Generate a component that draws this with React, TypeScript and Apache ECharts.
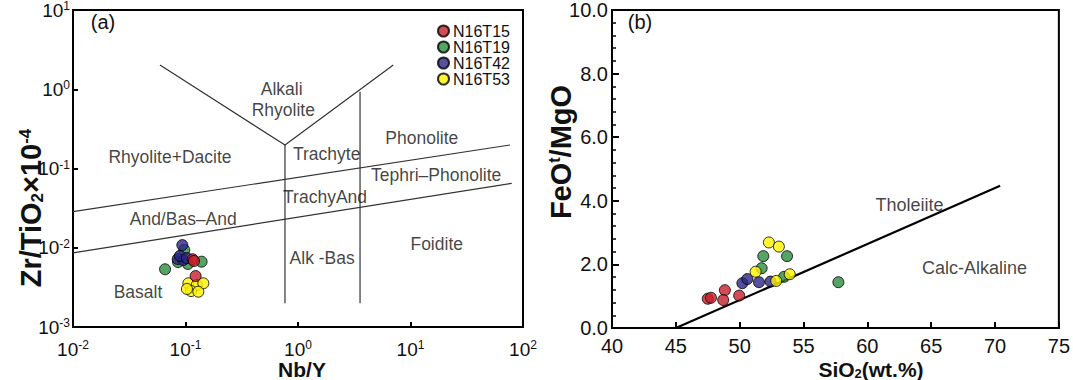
import React, { useEffect, useRef } from "react";
import * as echarts from "echarts";

const SAMPLES = ["N16T15", "N16T19", "N16T42", "N16T53"];
const COLORS = ["#c4202a", "#2b8c3e", "#2a2585", "#fff200"];

// (a) Nb/Y vs Zr/TiO2 x 10^-4
const NBY_ZR_N16T15 = [[0.116, 0.00715], [0.119, 0.0068], [0.123, 0.0044]];
const NBY_ZR_N16T19 = [[0.0975, 0.0094], [0.0658, 0.00535], [0.139, 0.00667], [0.105, 0.00624], [0.0858, 0.0066]];
const NBY_ZR_N16T42 = [[0.0937, 0.0108], [0.0853, 0.0072], [0.0955, 0.007], [0.0893, 0.0079], [0.103, 0.0074]];
const NBY_ZR_N16T53 = [[0.106, 0.00356], [0.126, 0.00339], [0.144, 0.00356], [0.112, 0.00284], [0.13, 0.00279], [0.103, 0.00302]];

// (b) SiO2 vs FeOt/MgO
const SIO2_FEO_N16T15 = [[47.5, 0.92], [47.75, 0.95], [48.84, 1.19], [48.71, 0.88], [49.96, 1.02]];
const SIO2_FEO_N16T19 = [[51.85, 2.26], [53.71, 2.26], [51.72, 1.88], [53.48, 1.61], [57.73, 1.44]];
const SIO2_FEO_N16T42 = [[50.21, 1.41], [50.6, 1.54], [51.51, 1.44], [52.42, 1.46]];
const SIO2_FEO_N16T53 = [[52.29, 2.69], [53.07, 2.56], [51.25, 1.77], [52.86, 1.48], [53.92, 1.69]];

// Winchester & Floyd field boundaries
const BOUNDARY_V = [[0.0593, 2.02], [0.766, 0.198], [7.03, 2.02]];
const BOUNDARY_VERT1 = [[0.766, 0.198], [0.766, 0.00199]];
const BOUNDARY_VERT2 = [[3.56, 0.931], [3.56, 0.00199]];
const BOUNDARY_UPPER = [[0.01, 0.0285], [76.6, 0.198]];
const BOUNDARY_LOWER = [[0.01, 0.0086], [79.4, 0.065]];

const FIELD_LABELS_A = [
  { name: "Alkali", value: [0.716, 1.0] },
  { name: "Rhyolite", value: [0.74, 0.547] },
  { name: "Phonolite", value: [12.6, 0.24] },
  { name: "Rhyolite+Dacite", value: [0.0728, 0.14] },
  { name: "Trachyte", value: [1.8, 0.151] },
  { name: "Tephri–Phonolite", value: [16.9, 0.0828] },
  { name: "TrachyAnd", value: [1.74, 0.044] },
  { name: "And/Bas–And", value: [0.0955, 0.0231] },
  { name: "Foidite", value: [17.1, 0.0111] },
  { name: "Alk -Bas", value: [1.64, 0.00736] },
  { name: "Basalt", value: [0.0378, 0.00277] },
];

// Tholeiite / calc-alkaline divide
const DIVIDE_B = [[45, 0], [70.4, 4.47]];
const FIELD_LABELS_B = [
  { name: "Tholeiite", value: [63.3, 3.87] },
  { name: "Calc-Alkaline", value: [68.4, 1.89] },
];

const FONT = '"Liberation Sans", Arial, sans-serif';

export default function App() {
  const ref = useRef<HTMLDivElement>(null);

  useEffect(() => {
    document.body.style.margin = "0";
    if (!ref.current) return;
    const chart = echarts.init(ref.current, undefined, { renderer: "svg" });

    const axisLine = { show: true, lineStyle: { color: "#000", width: 2 } };
    const powLabel = {
      margin: 3,
      color: "#111",
      fontSize: 19,
      fontFamily: FONT,
      formatter: (v: number) => `{b|10}{s|${Math.round(Math.log10(v))}}`,
      rich: {
        b: { fontSize: 19, fontFamily: FONT, color: "#111", lineHeight: 20 },
        s: { fontSize: 12, fontFamily: FONT, color: "#111", verticalAlign: "top", lineHeight: 20 },
      },
    };
    const pointStyle = (i: number) => ({
      color: COLORS[i],
      borderColor: "#000",
      borderWidth: 1,
    });

    const sampleSeriesA = [
      [1, NBY_ZR_N16T19],
      [2, NBY_ZR_N16T42],
      [3, NBY_ZR_N16T53],
      [0, NBY_ZR_N16T15],
    ].map(([i, data]: any) => ({
      type: "scatter",
      name: SAMPLES[i],
      xAxisIndex: 0,
      yAxisIndex: 0,
      data,
      symbolSize: 11,
      itemStyle: pointStyle(i),
      z: 5,
    }));

    const sampleSeriesB = [
      [0, SIO2_FEO_N16T15],
      [2, SIO2_FEO_N16T42],
      [1, SIO2_FEO_N16T19],
      [3, SIO2_FEO_N16T53],
    ].map(([i, data]: any) => ({
      type: "scatter",
      name: SAMPLES[i],
      xAxisIndex: 1,
      yAxisIndex: 1,
      data,
      symbolSize: 11,
      itemStyle: pointStyle(i),
      z: 5,
    }));

    const boundary = (data: number[][], width = 1.2, color = "#333", axis = 0) => ({
      type: "line",
      xAxisIndex: axis,
      yAxisIndex: axis,
      data,
      symbol: "none",
      silent: true,
      lineStyle: { color, width },
      z: 2,
    });

    const labelSeries = (data: any[], axis: number, size: number) => ({
      type: "scatter",
      xAxisIndex: axis,
      yAxisIndex: axis,
      data,
      symbolSize: 1,
      silent: true,
      itemStyle: { color: "rgba(0,0,0,0)" },
      label: {
        show: true,
        position: "inside",
        formatter: "{b}",
        color: "#111",
        fontSize: size,
        fontFamily: FONT,
      },
      z: 4,
    });

    chart.setOption({
      animation: false,
      backgroundColor: "#fff",
      legend: {
        data: SAMPLES,
        orient: "vertical",
        left: 432,
        top: 18,
        icon: "circle",
        itemWidth: 11,
        itemHeight: 11,
        itemGap: 0,
        textStyle: { fontSize: 16, fontFamily: FONT, color: "#111", padding: [0, 0, 0, -1] },
      },
      grid: [
        { left: 73, top: 10, width: 450, height: 317, show: true, borderColor: "#000", borderWidth: 2 },
        { left: 612, top: 10, width: 450, height: 318, show: true, borderColor: "#000", borderWidth: 2 },
      ],
      xAxis: [
        {
          type: "log",
          gridIndex: 0,
          logBase: 10,
          min: 0.01,
          max: 100,
          axisLine,
          axisTick: { inside: true, length: 5, lineStyle: { width: 2, color: "#000" } },
          splitLine: { show: false },
          axisLabel: { ...powLabel, margin: 12 },
        },
        {
          type: "value",
          gridIndex: 1,
          min: 40,
          max: 75,
          interval: 5,
          axisLine,
          axisTick: { inside: true, length: 6, lineStyle: { width: 2, color: "#000" } },
          splitLine: { show: false },
          axisLabel: { margin: 8, fontSize: 20, fontFamily: FONT, color: "#111" },
        },
      ],
      yAxis: [
        {
          type: "log",
          gridIndex: 0,
          logBase: 10,
          min: 0.001,
          max: 10,
          axisLine,
          axisTick: { inside: true, length: 5, lineStyle: { width: 2, color: "#000" } },
          splitLine: { show: false },
          axisLabel: powLabel,
        },
        {
          type: "value",
          gridIndex: 1,
          min: 0,
          max: 10,
          interval: 2,
          axisLine,
          axisTick: { inside: true, length: 7, lineStyle: { width: 2, color: "#000" } },
          minorTick: { show: true, splitNumber: 5, length: 4, lineStyle: { width: 1.5, color: "#000" } },
          splitLine: { show: false },
          axisLabel: {
            margin: 4,
            fontSize: 20,
            fontFamily: FONT,
            color: "#111",
            formatter: (v: number) => v.toFixed(1),
          },
        },
      ],
      graphic: [
        {
          type: "text",
          x: 103,
          y: 22,
          style: { text: "(a)", fontSize: 20, fontFamily: FONT, fill: "#111", textAlign: "center", textVerticalAlign: "middle" },
        },
        {
          type: "text",
          x: 640,
          y: 22,
          style: { text: "(b)", fontSize: 20, fontFamily: FONT, fill: "#111", textAlign: "center", textVerticalAlign: "middle" },
        },
        {
          type: "text",
          x: 302,
          y: 369,
          style: { text: "Nb/Y", fontSize: 21, fontWeight: "bold", fontFamily: FONT, fill: "#111", textAlign: "center", textVerticalAlign: "middle" },
        },
        {
          type: "text",
          x: 871,
          y: 369,
          style: {
            text: "SiO{sub|2}(wt.%)",
            fontSize: 21,
            fontWeight: "bold",
            fontFamily: FONT,
            fill: "#111",
            textAlign: "center",
            textVerticalAlign: "middle",
            rich: {
              sub: { fontSize: 13, fontWeight: "bold", fontFamily: FONT, fill: "#111", verticalAlign: "bottom" },
            },
          },
        },
        {
          type: "text",
          x: 31,
          y: 208,
          rotation: Math.PI / 2,
          style: {
            text: "Zr/TiO{sub|2}×10{sup|-4}",
            fontSize: 29,
            fontWeight: "bold",
            fontFamily: FONT,
            fill: "#111",
            textAlign: "center",
            textVerticalAlign: "middle",
            rich: {
              sub: { fontSize: 17, fontWeight: "bold", fontFamily: FONT, fill: "#111", verticalAlign: "bottom" },
              sup: { fontSize: 17, fontWeight: "bold", fontFamily: FONT, fill: "#111", verticalAlign: "top" },
            },
          },
        },
        {
          type: "text",
          x: 561,
          y: 152,
          rotation: Math.PI / 2,
          style: {
            text: "FeO{sup|t}/MgO",
            fontSize: 29,
            fontWeight: "bold",
            fontFamily: FONT,
            fill: "#111",
            textAlign: "center",
            textVerticalAlign: "middle",
            rich: {
              sup: { fontSize: 16, fontWeight: "bold", fontFamily: FONT, fill: "#111", verticalAlign: "top" },
            },
          },
        },
      ],
      series: [
        boundary(BOUNDARY_V),
        boundary(BOUNDARY_VERT1),
        boundary(BOUNDARY_VERT2),
        boundary(BOUNDARY_UPPER),
        boundary(BOUNDARY_LOWER),
        boundary(DIVIDE_B, 2.2, "#000", 1),
        labelSeries(FIELD_LABELS_A, 0, 17.5),
        labelSeries(FIELD_LABELS_B, 1, 18),
        ...sampleSeriesA,
        ...sampleSeriesB,
      ],
    });

    return () => chart.dispose();
  }, []);

  return <div ref={ref} style={{ width: 1073, height: 380 }} />;
}
